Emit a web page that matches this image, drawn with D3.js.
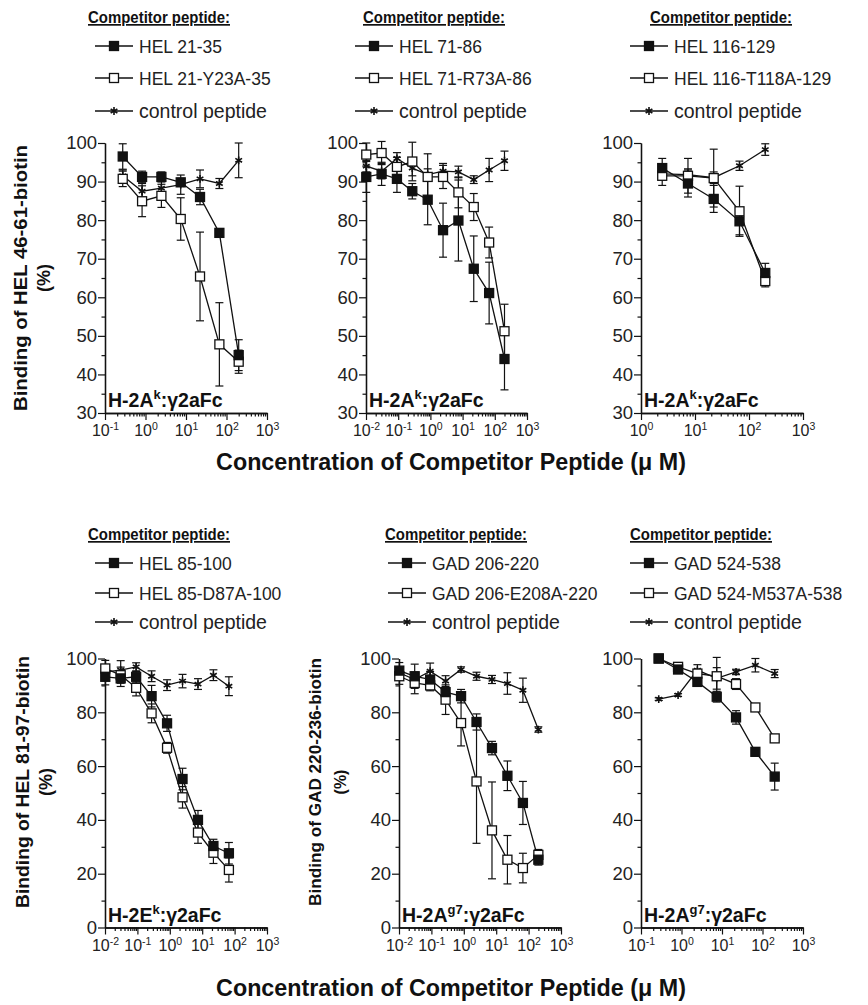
<!DOCTYPE html>
<html>
<head>
<meta charset="utf-8">
<script src="https://cdn.jsdelivr.net/npm/d3@7"></script>
<style>
  body { margin: 0; background: #fff; }
  svg { font-family: "Liberation Sans", Arial, sans-serif; }
</style>
</head>
<body>
<div id="chart"></div>
<script>
// concentrations (uM), 3-fold dilutions
var conc7 = [0.274, 0.823, 2.47, 7.41, 22.2, 66.7, 200];
var conc10 = [0.0102, 0.0305, 0.0914, 0.274, 0.823, 2.47, 7.41, 22.2, 66.7, 200];
var conc9 = [0.0102, 0.0305, 0.0914, 0.274, 0.823, 2.47, 7.41, 22.2, 66.7];
var conc5 = [2.47, 7.41, 22.2, 66.7, 200];

// panel A: HEL 21-35
var aLabels = ["HEL 21-35", "HEL 21-Y23A-35", "control peptide"];
var aWild = [96.5, 91.2, 91.2, 89.8, 86.0, 76.7, 45.0];
var aWildErr = [3.3, 1.5, 1.3, 1.0, 2.0, 1.0, 4.0];
var aMut = [90.7, 84.9, 86.3, 80.3, 65.4, 47.8, 43.3];
var aMutErr = [2.0, 4.0, 3.0, 5.5, 11.5, 10.8, 3.0];
var aCtrl = [91.5, 87.5, 88.3, 89.2, 90.7, 89.5, 95.5];
var aCtrlErr = [1.5, 2.0, 2.0, 2.5, 2.3, 1.3, 4.5];

// panel B: HEL 71-86
var bLabels = ["HEL 71-86", "HEL 71-R73A-86", "control peptide"];
var bWild = [91.2, 92.0, 90.7, 87.5, 85.3, 77.4, 79.9, 67.4, 61.1, 44.0];
var bWildErr = [4.0, 3.0, 3.5, 2.0, 6.5, 7.0, 10.5, 8.5, 8.0, 8.0];
var bMut = [97.0, 97.4, 93.8, 95.2, 91.2, 91.2, 87.2, 83.4, 74.2, 51.2];
var bMutErr = [3.0, 3.0, 2.5, 5.0, 6.0, 3.0, 4.0, 3.5, 4.0, 7.0];
var bCtrl = [94.0, 92.7, 96.0, 93.5, 91.8, 92.7, 92.5, 90.5, 93.0, 95.4];
var bCtrlErr = [1.5, 2.0, 1.5, 2.0, 1.5, 2.0, 1.5, 1.0, 3.0, 2.5];

// panel C: HEL 116-129
var cLabels = ["HEL 116-129", "HEL 116-T118A-129", "control peptide"];
var cWild = [93.5, 89.5, 85.5, 79.7, 66.3];
var cWildErr = [2.5, 3.5, 3.5, 3.5, 2.5];
var cMut = [91.5, 91.5, 90.9, 82.3, 64.2];
var cMutErr = [2.5, 4.5, 7.5, 6.5, 1.5];
var cCtrl = [92.0, 91.8, 91.0, 94.1, 98.3];
var cCtrlErr = [1.5, 1.5, 1.5, 1.2, 1.5];

// panel D: HEL 85-100
var dLabels = ["HEL 85-100", "HEL 85-D87A-100", "control peptide"];
var dWild = [93.2, 92.6, 93.2, 86.0, 75.9, 55.2, 40.0, 30.3, 27.6];
var dWildErr = [3, 3, 2, 4, 3, 4, 3.5, 2.5, 4];
var dMut = [96.3, 93.8, 89.1, 79.6, 66.8, 48.4, 35.3, 27.8, 21.4];
var dMutErr = [3, 3, 3, 3.5, 2, 4, 4, 4, 4.5];
var dCtrl = [95.0, 95.7, 96.9, 93.4, 90.1, 91.6, 90.5, 93.8, 89.7];
var dCtrlErr = [2, 3.5, 1.5, 2, 2, 2.5, 2, 2, 3.5];

// panel E: GAD 206-220
var eLabels = ["GAD 206-220", "GAD 206-E208A-220", "control peptide"];
var eWild = [95.5, 93.4, 92.2, 87.5, 86.0, 76.4, 66.7, 56.4, 46.3, 25.2];
var eWildErr = [3, 4.5, 3, 1.5, 2.5, 3, 2.5, 5.5, 8, 2];
var eMut = [93.4, 90.9, 90.0, 84.7, 76.0, 54.3, 36.1, 25.2, 22.1, 27.0];
var eMutErr = [3, 4, 2, 5.5, 8.5, 23, 18, 9, 5.5, 2];
var eCtrl = [94.7, 92.2, 95.3, 91.6, 95.9, 93.4, 92.2, 90.7, 88.2, 73.6];
var eCtrlErr = [2, 2, 3, 2, 1, 1.5, 1.5, 4, 4.5, 1];

// panel F: GAD 524-538
var fLabels = ["GAD 524-538", "GAD 524-M537A-538", "control peptide"];
var fWild = [100, 95.9, 91.3, 85.8, 78.1, 65.3, 56.1];
var fWildErr = [0.5, 1, 1.5, 2, 2.5, 1, 5];
var fMut = [100, 96.9, 94.4, 93.4, 90.5, 81.8, 70.3];
var fMutErr = [0.5, 1, 1.5, 7, 2, 1, 1];
var fCtrl = [84.9, 86.4, 95.7, 92.6, 95.0, 97.5, 94.4];
var fCtrlErr = [0.5, 0.5, 2, 4, 1, 2.5, 1.5];

// axis ticks
var yTicksTop = [30, 40, 50, 60, 70, 80, 90, 100];
var yTicksBottom = [0, 20, 40, 60, 80, 100];
var xTitle = "Concentration of Competitor Peptide (\u03bc M)";

var width = 868, height = 1005;
var svg = d3.select("#chart").append("svg")
    .attr("width", width)
    .attr("height", height);

var panels = [
    {conc: conc7, wild: aWild, wildErr: aWildErr, mut: aMut, mutErr: aMutErr, ctrl: aCtrl, ctrlErr: aCtrlErr,
     labels: aLabels, xDom: [0.1, 1000], x0: 105, x1: 267, top: true, legX: 95, headX: 88,
     mhc: ["H-2A", "k", ":\u03b32aFc"], yTitle: "Binding of HEL 46-61-biotin", titleX: 21, pctX: 44,
     titleSize: 18, titleLen: 266},
    {conc: conc10, wild: bWild, wildErr: bWildErr, mut: bMut, mutErr: bMutErr, ctrl: bCtrl, ctrlErr: bCtrlErr,
     labels: bLabels, xDom: [0.01, 1000], x0: 366, x1: 527, top: true, legX: 355, headX: 363,
     mhc: ["H-2A", "k", ":\u03b32aFc"]},
    {conc: conc5, wild: cWild, wildErr: cWildErr, mut: cMut, mutErr: cMutErr, ctrl: cCtrl, ctrlErr: cCtrlErr,
     labels: cLabels, xDom: [1, 1000], x0: 641, x1: 803, top: true, legX: 630, headX: 650,
     mhc: ["H-2A", "k", ":\u03b32aFc"]},
    {conc: conc9, wild: dWild, wildErr: dWildErr, mut: dMut, mutErr: dMutErr, ctrl: dCtrl, ctrlErr: dCtrlErr,
     labels: dLabels, xDom: [0.01, 1000], x0: 105, x1: 267, top: false, legX: 95, headX: 88,
     mhc: ["H-2E", "k", ":\u03b32aFc"], yTitle: "Binding of HEL 81-97-biotin", titleX: 23, pctX: 46,
     titleSize: 18, titleLen: 252},
    {conc: conc10, wild: eWild, wildErr: eWildErr, mut: eMut, mutErr: eMutErr, ctrl: eCtrl, ctrlErr: eCtrlErr,
     labels: eLabels, xDom: [0.01, 1000], x0: 399, x1: 561, top: false, legX: 388, headX: 385,
     mhc: ["H-2A", "g7", ":\u03b32aFc"], yTitle: "Binding of GAD 220-236-biotin", titleX: 315, pctX: 340,
     titleSize: 16, titleLen: 248},
    {conc: conc7, wild: fWild, wildErr: fWildErr, mut: fMut, mutErr: fMutErr, ctrl: fCtrl, ctrlErr: fCtrlErr,
     labels: fLabels, xDom: [0.1, 1000], x0: 641, x1: 803, top: false, legX: 630, headX: 630,
     mhc: ["H-2A", "g7", ":\u03b32aFc"]}
];

var star = d3.symbol().type(d3.symbolAsterisk).size(42);

function drawMarker(g, kind, cx, cy) {
    if (kind === "ctrl") {
        g.append("path")
            .attr("d", star)
            .attr("transform", "translate(" + cx + "," + cy + ")")
            .attr("fill", "none")
            .attr("stroke", "#111")
            .attr("stroke-width", 1.6);
    } else {
        g.append("rect")
            .attr("x", cx - 4.5).attr("y", cy - 4.5)
            .attr("width", 9).attr("height", 9)
            .attr("fill", kind === "wild" ? "#111" : "#fff")
            .attr("stroke", "#111")
            .attr("stroke-width", 1.3);
    }
}

panels.forEach(function (p) {
    var yTop = p.top ? 143 : 658.5,
        yBot = p.top ? 413 : 927.5;
    var yDom = p.top ? [30, 100] : [0, 100];

    var x = d3.scaleLog().domain(p.xDom).range([p.x0, p.x1]);
    var y = d3.scaleLinear().domain(yDom).range([yBot, yTop]);

    var g = svg.append("g");

    // y axis
    var majors = p.top ? yTicksTop : yTicksBottom;
    var minors = d3.range(yDom[0], yDom[1] + 0.1, p.top ? 5 : 10)
        .filter(function (v) { return majors.indexOf(v) < 0; });
    g.append("g")
        .attr("transform", "translate(" + p.x0 + ",0)")
        .call(d3.axisLeft(y).tickValues(minors).tickSize(3.5).tickSizeOuter(0).tickFormat(""));
    var ya = g.append("g")
        .attr("transform", "translate(" + p.x0 + ",0)")
        .call(d3.axisLeft(y).tickValues(majors).tickSize(7).tickSizeOuter(0).tickFormat(d3.format("d")));
    ya.selectAll("text").attr("font-size", 18.5).attr("fill", "#222").attr("x", -8);

    // x axis
    var e0 = Math.round(Math.log10(p.xDom[0])), e1 = Math.round(Math.log10(p.xDom[1]));
    var decades = d3.range(e0, e1 + 1).map(function (e) { return Math.pow(10, e); });
    var minorX = [];
    decades.slice(0, -1).forEach(function (d) {
        for (var k = 2; k < 10; k++) minorX.push(d * k);
    });
    g.append("g")
        .attr("transform", "translate(0," + yBot + ")")
        .call(d3.axisBottom(x).tickValues(minorX).tickSize(3.5).tickSizeOuter(0).tickFormat(""));
    var xa = g.append("g")
        .attr("transform", "translate(0," + yBot + ")")
        .call(d3.axisBottom(x).tickValues(decades).tickSize(7).tickSizeOuter(0));
    xa.selectAll(".tick text").each(function (d) {
        var t = d3.select(this);
        var ex = Math.round(Math.log10(d));
        t.text(null).attr("font-size", 16).attr("fill", "#222").attr("y", 12).attr("dy", "0.71em");
        t.append("tspan").text("10");
        t.append("tspan").attr("font-size", 10.5).attr("dy", "-0.6em").text(ex < 0 ? "-" + (-ex) : ex);
    });
    g.selectAll(".domain").attr("stroke", "#111").attr("stroke-width", 1.3);
    g.selectAll(".tick line").attr("stroke", "#111").attr("stroke-width", 1.2);

    // series
    var series = [
        {kind: "ctrl", v: p.ctrl, err: p.ctrlErr},
        {kind: "mut", v: p.mut, err: p.mutErr},
        {kind: "wild", v: p.wild, err: p.wildErr}
    ];
    var line = d3.line()
        .x(function (d) { return x(d[0]); })
        .y(function (d) { return y(d[1]); });

    series.forEach(function (s) {
        var pts = p.conc.map(function (c, i) { return [c, s.v[i], s.err[i]]; });
        g.append("path")
            .datum(pts)
            .attr("d", line)
            .attr("fill", "none")
            .attr("stroke", "#111")
            .attr("stroke-width", 1.3);
        pts.forEach(function (d) {
            var cx = x(d[0]);
            var hi = y(Math.min(d[1] + d[2], yDom[1] + 2)), lo = y(d[1] - d[2]);
            g.append("line").attr("x1", cx).attr("x2", cx).attr("y1", hi).attr("y2", lo)
                .attr("stroke", "#111").attr("stroke-width", 1.2);
            [hi, lo].forEach(function (yy) {
                g.append("line").attr("x1", cx - 4).attr("x2", cx + 4).attr("y1", yy).attr("y2", yy)
                    .attr("stroke", "#111").attr("stroke-width", 1.2);
            });
        });
    });
    series.forEach(function (s) {
        p.conc.forEach(function (c, i) {
            drawMarker(g, s.kind, x(c), y(s.v[i]));
        });
    });

    // MHC label inside plot
    var lab = g.append("text")
        .attr("x", p.x0 + 3)
        .attr("y", yBot - 6)
        .attr("font-size", 19.5)
        .attr("font-weight", "bold")
        .attr("fill", "#111");
    lab.append("tspan").text(p.mhc[0]);
    lab.append("tspan").attr("font-size", 13).attr("dy", "-0.6em").text(p.mhc[1]);
    lab.append("tspan").attr("dy", "0.4em").text(p.mhc[2]);

    // legend
    var legTop = p.top ? 17 : 534;
    var rowY = p.top ? [46, 78, 111] : [563, 593, 622];
    g.append("text")
        .attr("x", p.headX).attr("y", legTop + 6)
        .attr("font-size", 17).attr("font-weight", "bold")
        .attr("text-decoration", "underline")
        .attr("textLength", 142).attr("lengthAdjust", "spacingAndGlyphs")
        .attr("fill", "#111")
        .text("Competitor peptide:");
    ["wild", "mut", "ctrl"].forEach(function (kind, i) {
        var ly = rowY[i];
        g.append("line").attr("x1", p.legX).attr("x2", p.legX + 38).attr("y1", ly).attr("y2", ly)
            .attr("stroke", "#111").attr("stroke-width", 1.3);
        drawMarker(g, kind, p.legX + 19, ly);
        g.append("text")
            .attr("x", p.legX + 44).attr("y", ly + 6.5)
            .attr("font-size", kind === "ctrl" ? 19.5 : 17.5).attr("fill", "#222")
            .text(p.labels[i]);
    });

    // y title
    if (p.yTitle) {
        var cy = (yTop + yBot) / 2 + (p.top ? 0 : -11);
        g.append("text")
            .attr("transform", "translate(" + p.titleX + "," + cy + ") rotate(-90)")
            .attr("text-anchor", "middle")
            .attr("dy", "0.35em")
            .attr("font-size", p.titleSize).attr("font-weight", "bold").attr("fill", "#111")
            .attr("textLength", p.titleLen).attr("lengthAdjust", "spacingAndGlyphs")
            .text(p.yTitle);
        g.append("text")
            .attr("transform", "translate(" + p.pctX + "," + cy + ") rotate(-90)")
            .attr("text-anchor", "middle")
            .attr("dy", "0.35em")
            .attr("font-size", p.titleSize).attr("font-weight", "bold").attr("fill", "#111")
            .text("(%)");
    }
});

// shared x titles
[462, 988].forEach(function (ty) {
    svg.append("text")
        .attr("x", 451).attr("y", ty)
        .attr("text-anchor", "middle")
        .attr("dy", "0.35em")
        .attr("font-size", 23.3).attr("font-weight", "bold").attr("fill", "#111")
        .text(xTitle);
});
</script>
</body>
</html>
